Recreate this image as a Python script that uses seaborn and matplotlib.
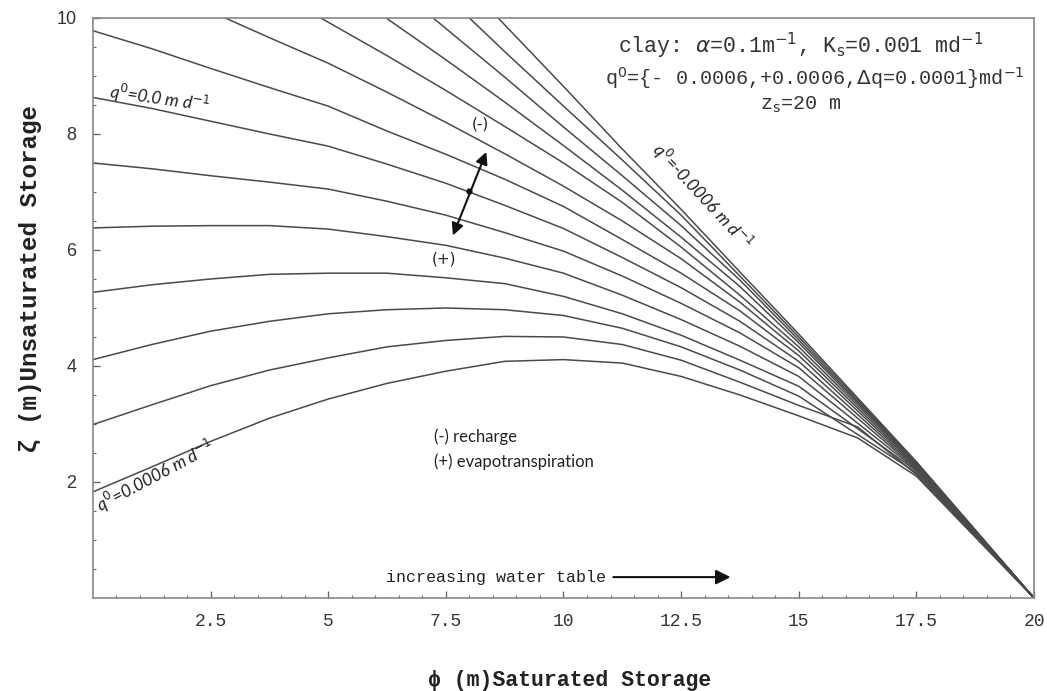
import numpy as np
import pandas as pd
import seaborn as sns
import matplotlib.pyplot as plt

# curves, bottom (q0=+0.0006) to top (q0=-0.0006)
phi_a = [0, 1.25, 2.5, 3.75, 5, 6.25, 7.5, 8.75, 10, 11.25, 12.5, 13.75, 15, 16.25, 17.5, 20]
zeta_a = [1.83, 2.26, 2.7, 3.1, 3.43, 3.7, 3.91, 4.08, 4.11, 4.05, 3.82, 3.5, 3.14, 2.76, 2.1, 0]
phi_b = [0, 1.25, 2.5, 3.75, 5, 6.25, 7.5, 8.75, 10, 11.25, 12.5, 13.75, 15, 16.25, 17.5, 20]
zeta_b = [2.99, 3.33, 3.66, 3.93, 4.14, 4.33, 4.44, 4.51, 4.5, 4.37, 4.1, 3.72, 3.32, 2.95, 2.13, 0]
phi_c = [0, 1.25, 2.5, 3.75, 5, 6.25, 7.5, 8.75, 10, 11.25, 12.5, 13.75, 15, 17.5, 20]
zeta_c = [4.11, 4.37, 4.6, 4.77, 4.9, 4.97, 5.0, 4.97, 4.87, 4.65, 4.33, 3.93, 3.48, 2.16, 0]
phi_d = [0, 1.25, 2.5, 3.75, 5, 6.25, 7.5, 8.75, 10, 11.25, 12.5, 13.75, 15, 17.5, 20]
zeta_d = [5.27, 5.4, 5.5, 5.58, 5.6, 5.6, 5.52, 5.42, 5.2, 4.9, 4.53, 4.1, 3.65, 2.19, 0]
phi_e = [0, 1.25, 2.5, 3.75, 5, 6.25, 7.5, 8.75, 10, 11.25, 12.5, 13.75, 15, 17.5, 20]
zeta_e = [6.38, 6.41, 6.42, 6.42, 6.36, 6.23, 6.08, 5.86, 5.6, 5.22, 4.8, 4.34, 3.82, 2.21, 0]
phi_f = [0, 1.25, 2.5, 3.75, 5, 6.25, 7.5, 8.75, 10, 11.25, 12.5, 13.75, 15, 17.5, 20]
zeta_f = [7.5, 7.4, 7.28, 7.17, 7.05, 6.84, 6.6, 6.3, 5.98, 5.55, 5.08, 4.57, 3.97, 2.23, 0]
phi_g = [0, 1.25, 2.5, 3.75, 5, 6.25, 7.5, 8.75, 10, 11.25, 12.5, 13.75, 15, 17.5, 20]
zeta_g = [8.63, 8.44, 8.22, 8.0, 7.79, 7.48, 7.15, 6.77, 6.37, 5.87, 5.35, 4.77, 4.08, 2.25, 0]
phi_h = [0, 1.25, 2.5, 3.75, 5, 6.25, 7.5, 8.75, 10, 11.25, 12.5, 13.75, 15, 17.5, 20]
zeta_h = [9.78, 9.47, 9.13, 8.8, 8.48, 8.05, 7.65, 7.22, 6.75, 6.18, 5.6, 4.95, 4.18, 2.27, 0]
phi_i = [2.81, 3.75, 5, 6.25, 7.5, 8.75, 10, 11.25, 12.5, 13.75, 15, 17.5, 20]
zeta_i = [10, 9.66, 9.22, 8.72, 8.2, 7.66, 7.1, 6.5, 5.85, 5.1, 4.26, 2.29, 0]
phi_j = [4.84, 6.25, 7.5, 8.75, 10, 11.25, 12.5, 13.75, 15, 17.5, 20]
zeta_j = [10, 9.35, 8.75, 8.13, 7.5, 6.82, 6.05, 5.22, 4.33, 2.31, 0]
phi_k = [6.23, 7.5, 8.75, 10, 11.25, 12.5, 13.75, 15, 17.5, 20]
zeta_k = [10, 9.28, 8.55, 7.8, 7.03, 6.22, 5.37, 4.4, 2.32, 0]
phi_l = [7.23, 8.75, 10, 11.25, 12.5, 13.75, 15, 17.5, 20]
zeta_l = [10, 8.98, 8.12, 7.28, 6.42, 5.48, 4.45, 2.33, 0]
phi_m = [8.0, 8.75, 10, 11.25, 12.5, 13.75, 15, 17.5, 20]
zeta_m = [10, 9.42, 8.48, 7.55, 6.6, 5.55, 4.5, 2.34, 0]
phi_n = [8.61, 10, 11.25, 12.5, 13.75, 15, 17.5, 20]
zeta_n = [10, 8.82, 7.74, 6.7, 5.62, 4.55, 2.35, 0]

curves = [(phi_a, zeta_a), (phi_b, zeta_b), (phi_c, zeta_c), (phi_d, zeta_d),
          (phi_e, zeta_e), (phi_f, zeta_f), (phi_g, zeta_g), (phi_h, zeta_h),
          (phi_i, zeta_i), (phi_j, zeta_j), (phi_k, zeta_k), (phi_l, zeta_l),
          (phi_m, zeta_m), (phi_n, zeta_n)]

x_ticks = [2.5, 5, 7.5, 10, 12.5, 15, 17.5, 20]
x_ticklabels = ['2.5', '5', '7.5', '10', '12.5', '15', '17.5', '20']
y_ticks = [2, 4, 6, 8, 10]

rows = []
for i, (px, zy) in enumerate(curves):
    for p, z in zip(px, zy):
        rows.append({'curve': i, 'phi': p, 'zeta': z})
df = pd.DataFrame(rows)

sns.set_style('ticks')
plt.rcParams['font.family'] = ['DejaVu Sans']
mono = ['Liberation Mono', 'DejaVu Sans Mono']

fig = plt.figure(figsize=(10.47, 6.91), dpi=100)
ax = fig.add_axes([0.0888, 0.1346, 0.8988, 0.8394])

sns.lineplot(data=df, x='phi', y='zeta', units='curve', estimator=None,
             sort=False, color='#4a4a4a', linewidth=1.1, ax=ax)

ax.set_xlim(0, 20)
ax.set_ylim(0, 10)
ax.set_xticks(x_ticks)
ax.set_xticklabels(x_ticklabels, family=mono, fontsize=13, color='#333')
ax.set_yticks(y_ticks)
ax.set_yticklabels([str(v) for v in y_ticks], family='Liberation Sans', fontsize=13, color='#333')
ax.set_xticks(np.arange(0.5, 20, 0.5), minor=True)
ax.set_yticks(np.arange(0.5, 10, 0.5), minor=True)
ax.tick_params(which='major', direction='in', length=5, width=1, color='#666', pad=11)
ax.tick_params(which='minor', direction='in', length=2.5, width=0.8, color='#666')
ax.tick_params(axis='y', pad=12)
for s in ax.spines.values():
    s.set_color('#888')
    s.set_linewidth(1.2)

ax.set_xlabel('\u03d5 (m)Saturated Storage', family=mono,
              fontweight='bold', fontsize=15.5, color='#222')
ax.xaxis.set_label_coords(0.507, -0.124)
ax.set_ylabel('\u03b6 (m)Unsaturated Storage', family=mono,
              fontweight='bold', fontsize=17.5, color='#222')
ax.yaxis.set_label_coords(-0.054, 0.55)

ax.text(15.05, 9.52, r'clay: $\alpha$=0.1m$^{-1}$, K$_{\mathrm{s}}$=0.001 md$^{-1}$',
        family=mono, fontsize=15.5, ha='center', va='center', color='#333')
ax.text(15.35, 8.97, r'q$^0$={- 0.0006,+0.0006,$\Delta$q=0.0001}md$^{-1}$',
        family=mono, fontsize=14.5, ha='center', va='center', color='#333')
ax.text(15.05, 8.5, r'z$_{\mathrm{s}}$=20 m', family=mono, fontsize=14.5,
        ha='center', va='center', color='#333')

lab = dict(fontsize=12.5, family='Lato', style='italic', color='#222')
ax.text(0.33, 8.62, r'q$^0$=0.0 m d$^{-1}$', rotation=-8, ha='left',
        va='baseline', rotation_mode='anchor', **lab)
ax.text(0.16, 1.48, r'q$^0$=0.0006 m d$^{-1}$', rotation=28, ha='left',
        va='baseline', rotation_mode='anchor', **lab)
ax.text(12.95, 6.93, r'q$^0$=-0.0006 m d$^{-1}$', rotation=-47,
        ha='center', va='center', **lab)

ax.text(8.23, 8.17, '(-)', fontsize=11, ha='center', va='center', color='#222')
ax.text(7.46, 5.84, '(+)', fontsize=11, ha='center', va='center', color='#222')
ax.annotate('', xy=(8.36, 7.69), xytext=(7.65, 6.25),
            arrowprops=dict(arrowstyle='<|-|>', color='#111', lw=1.5,
                            mutation_scale=18, shrinkA=0, shrinkB=0))
ax.plot([8.0], [7.01], 'o', color='#111', markersize=3.5)

ax.text(7.25, 2.78, '(-) recharge', fontsize=12, family='Lato', ha='left', va='center', color='#222')
ax.text(7.25, 2.35, '(+) evapotranspiration', fontsize=12, family='Lato', ha='left', va='center', color='#222')

ax.text(6.23, 0.36, 'increasing water table', family=mono, fontsize=12,
        ha='left', va='center', color='#222')
ax.annotate('', xy=(13.55, 0.36), xytext=(11.06, 0.36),
            arrowprops=dict(arrowstyle='-|>', color='#111', lw=1.5,
                            mutation_scale=22, shrinkA=0, shrinkB=0))

fig.savefig('out.png', dpi=100)
